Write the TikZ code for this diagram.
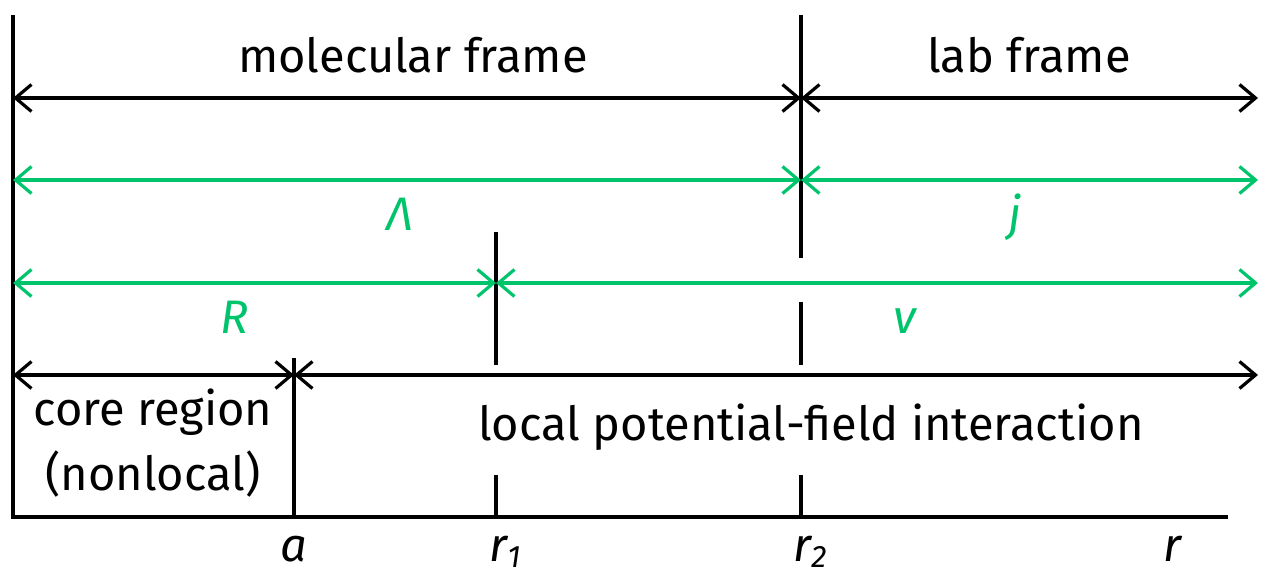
\documentclass[tikz,border=0pt]{standalone}
\usepackage{fontspec}
\setmainfont{Fira Sans}
\usetikzlibrary{arrows.meta}
\definecolor{grn}{RGB}{0,196,108}
\newcommand{\mysub}[1]{\raisebox{-6pt}{\fontsize{31}{34}\selectfont #1}}
\begin{document}
\begin{tikzpicture}[x=1pt,y=-1pt,
  axis/.style={line width=3.6pt},
  dim/.style={line width=3.2pt,{Straight Barb[length=16pt,width=27pt,line width=3.2pt]}-{Straight Barb[length=16pt,width=27pt,line width=3.2pt]}},
  gdim/.style={dim,draw=grn},
  lbl/.style={anchor=base,inner sep=0pt,font=\fontsize{47}{56}\selectfont},
  glbl/.style={lbl,text=grn,font=\fontsize{47}{56}\selectfont\itshape},
  mlbl/.style={lbl,font=\fontsize{47}{56}\selectfont\itshape}]
\useasboundingbox (0,0) rectangle (1262,578);
% coordinates
\coordinate (top) at (13,15);
\coordinate (o) at (13,517);
\coordinate (e) at (1228,517);
\coordinate (a) at (294,517);
\coordinate (r1) at (496,517);
\coordinate (r2) at (801,517);
% axes
\draw[axis] (top) -- (o) -- (e);
% tick lines
\draw[axis] (294,358) -- (a);
\draw[axis] (496,232) -- (496,365);
\draw[axis] (496,475) -- (r1);
\draw[axis] (801,15) -- (801,258);
\draw[axis] (801,302) -- (801,365);
\draw[axis] (801,475) -- (r2);
% row coordinates
\coordinate (L1) at (13,98);   \coordinate (M1) at (801,98);  \coordinate (E1) at (1258,98);
\coordinate (L2) at (13,180);  \coordinate (M2) at (801,180); \coordinate (E2) at (1258,180);
\coordinate (L3) at (13,283);  \coordinate (M3) at (496,283); \coordinate (E3) at (1258,283);
\coordinate (L4) at (13,375);  \coordinate (M4) at (294,375); \coordinate (E4) at (1258,375);
\draw[dim] (L1) -- (M1);
\draw[dim] (M1) -- (E1);
\draw[gdim] (L2) -- (M2);
\draw[gdim] (M2) -- (E2);
\draw[gdim] (L3) -- (M3);
\draw[gdim] (M3) -- (E3);
\draw[dim] (L4) -- (M4);
\draw[dim] (M4) -- (E4);
% labels
\node[lbl] (mf) at (413,73) {molecular frame};
\node[lbl] (lf) at (1029,73) {lab frame};
\node[glbl] (Lam) at (400,230) {Λ};
\node[glbl] (j) at (1015,230) {j};
\node[glbl] (R) at (235,333) {R};
\node[glbl] (v) at (905,333) {v};
\node[lbl] (core) at (153,425) {core region};
\node[lbl] (nl) at (153,490) {(nonlocal)};
\node[lbl] (loc) at (811,440) {local potential-field interaction};
\node[mlbl] (la) at (294,561) {a};
\node[mlbl] (lr1) at (505,561) {r\mysub{1}};
\node[mlbl] (lr2) at (810,561) {r\mysub{2}};
\node[mlbl] (lr) at (1172,561) {r};
\end{tikzpicture}
\end{document}
